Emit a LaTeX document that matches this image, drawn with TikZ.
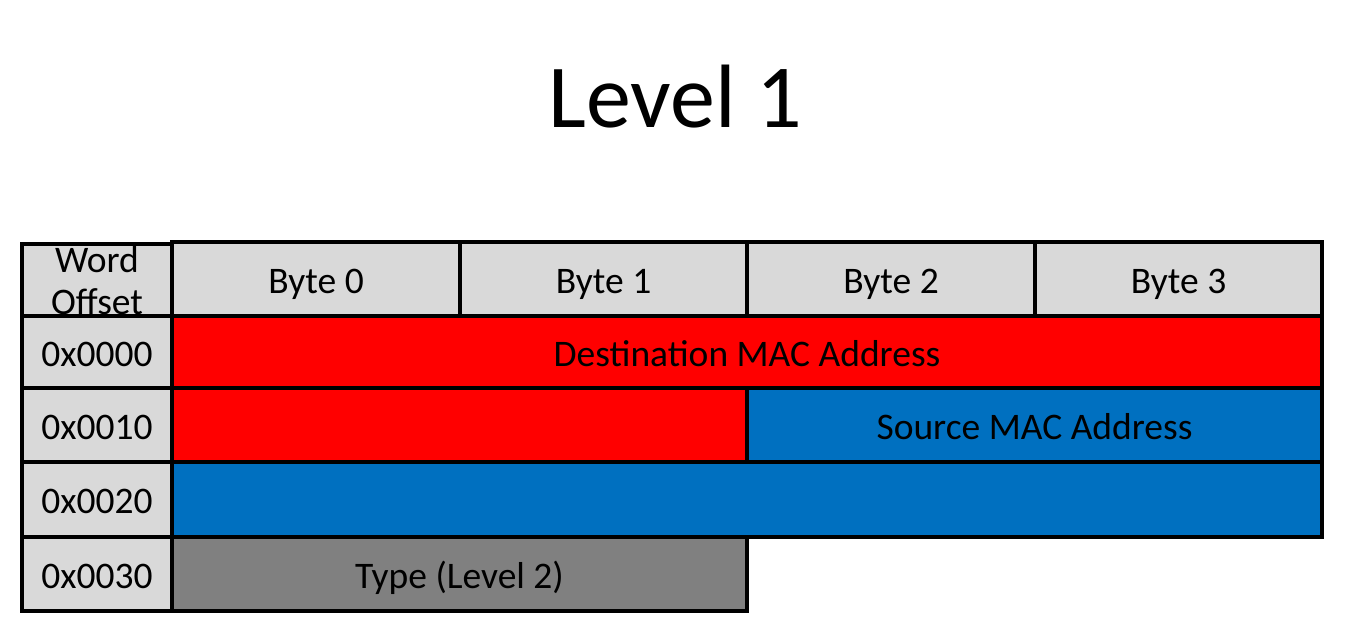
\documentclass[tikz,border=0pt]{standalone}
\usepackage{fontspec}
\setmainfont{Carlito}
\definecolor{hdrgrey}{HTML}{D9D9D9}
\definecolor{mred}{HTML}{FF0000}
\definecolor{mblue}{HTML}{0070C0}
\definecolor{mgrey}{HTML}{808080}
\tikzset{
  box/.style={draw=black, line width=4pt, inner sep=0pt, outer sep=0pt, align=center,
    font=\fontsize{37.5}{42}\selectfont},
  cell/.style={box, text height=28pt, text depth=0pt},
  hdr/.style={cell, fill=hdrgrey},
}
\begin{document}
\begin{tikzpicture}[x=1pt,y=-1pt]
\useasboundingbox (0,0) rectangle (1350,622);
\node[anchor=base, font=\fontsize{90}{100}\selectfont] (title) at (675,127) {Level 1};
% header row
\node[box, fill=hdrgrey, minimum width=150pt, minimum height=74pt] (wo) at (97,281) {Word\\Offset};
\node[hdr, minimum width=288pt, minimum height=74pt] (b0) at (316,279) {Byte 0};
\node[hdr, minimum width=287pt, minimum height=74pt] (b1) at (603.5,279) {Byte 1};
\node[hdr, minimum width=288pt, minimum height=74pt] (b2) at (891,279) {Byte 2};
\node[hdr, minimum width=287pt, minimum height=74pt] (b3) at (1178.5,279) {Byte 3};
% row labels
\node[hdr, minimum width=150pt, minimum height=72pt] (r0) at (97,352) {0x0000};
\node[hdr, minimum width=150pt, minimum height=74pt] (r1) at (97,425) {0x0010};
\node[hdr, minimum width=150pt, minimum height=75pt] (r2) at (97,499.5) {0x0020};
\node[hdr, minimum width=150pt, minimum height=74pt] (r3) at (97,574) {0x0030};
% fields
\node[cell, fill=mred, minimum width=1150pt, minimum height=72pt] (dst) at (747,352) {Destination MAC Address};
\node[cell, fill=mred, minimum width=575pt, minimum height=74pt] (dst2) at (459.5,425) {};
\node[cell, fill=mblue, minimum width=575pt, minimum height=74pt] (src) at (1034.5,425) {Source MAC Address};
\node[cell, fill=mblue, minimum width=1150pt, minimum height=75pt] (src2) at (747,499.5) {};
\node[cell, fill=mgrey, minimum width=575pt, minimum height=74pt] (type) at (459.5,574) {Type (Level 2)};
\end{tikzpicture}
\end{document}
